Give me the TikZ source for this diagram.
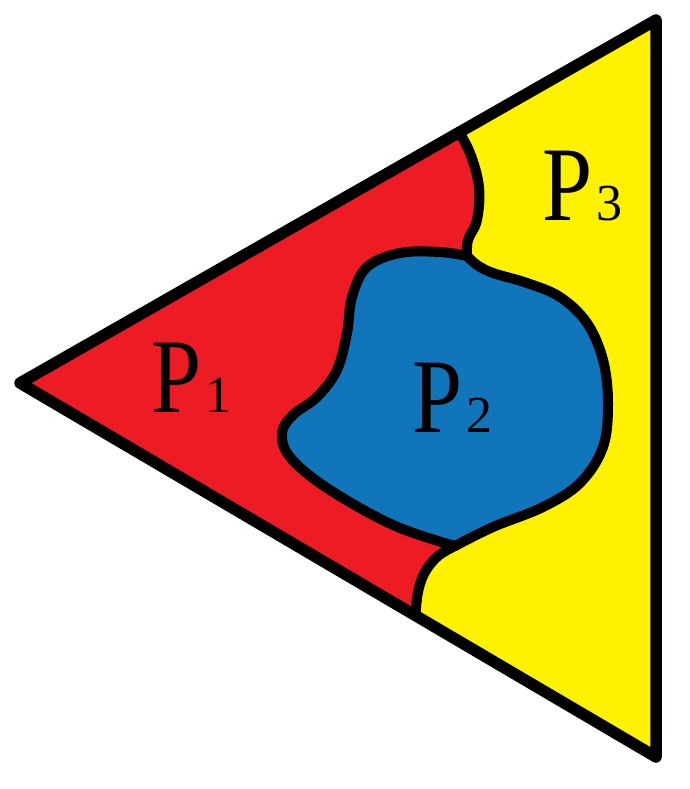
\documentclass[tikz,border=0pt]{standalone}
\usepackage{fontspec}
\setmainfont{Liberation Serif}
\definecolor{pred}{HTML}{ED1C24}
\definecolor{pblue}{HTML}{1175BC}
\definecolor{pyellow}{HTML}{FFF200}
\newcommand{\plab}[1]{\scalebox{0.85}[1]{\fontsize{106}{106}\selectfont P}\hspace{4pt}{\fontsize{52}{52}\selectfont #1}}
\begin{document}
\begin{tikzpicture}[x=1pt,y=-1pt, line join=round, line cap=round,
  edge/.style={line width=11.5pt},
  border/.style={line width=10pt},
  lab/.style={inner sep=0pt, anchor=base west}]
\useasboundingbox (0,0) rectangle (689,789);
\coordinate (L) at (20,383);
\coordinate (TR) at (656,20);
\coordinate (BR) at (656,757);
\coordinate (J1) at (467,256);
\coordinate (J2) at (455,546);
\begin{scope}
\clip (L) -- (TR) -- (BR) -- cycle;
\fill[pyellow] (L) -- (TR) -- (BR) -- cycle;
\fill[pred] (L) -- (450,120)
  -- plot[smooth,tension=0.6] coordinates {(455,125)(470,153)(479,187)(477,220)(468,240)(467,256)}
  -- plot[smooth,tension=0.6] coordinates {(467,256)(440,252)(400,253)(367,267)(352,297)(347,333)(337,370)(317,397)(293,415)(282,433)(290,457)(327,488)(393,525)(455,546)}
  -- plot[smooth,tension=0.6] coordinates {(455,546)(438,556)(425,572)(418,592)(415,620)}
  -- cycle;
\fill[pblue] plot[smooth,tension=0.6] coordinates {(467,256)(440,252)(400,253)(367,267)(352,297)(347,333)(337,370)(317,397)(293,415)(282,433)(290,457)(327,488)(393,525)(455,546)}
  -- plot[smooth,tension=0.6] coordinates {(455,546)(493,527)(543,507)(580,483)(603,447)(608,403)(603,360)(587,323)(560,297)(527,283)(493,273)(477,265)(467,256)}
  -- cycle;
\draw[border] plot[smooth,tension=0.6] coordinates {(455,125)(470,153)(479,187)(477,220)(468,240)(467,256)};
\draw[border] plot[smooth,tension=0.6] coordinates {(467,256)(440,252)(400,253)(367,267)(352,297)(347,333)(337,370)(317,397)(293,415)(282,433)(290,457)(327,488)(393,525)(455,546)};
\draw[border] plot[smooth,tension=0.6] coordinates {(455,546)(493,527)(543,507)(580,483)(603,447)(608,403)(603,360)(587,323)(560,297)(527,283)(493,273)(477,265)(467,256)};
\draw[border] plot[smooth,tension=0.6] coordinates {(455,546)(438,556)(425,572)(418,592)(415,620)};
\end{scope}
\draw[edge] (L) -- (TR) -- (BR) -- cycle;
\node[lab] (p1) at (151,412) {\plab{1}};
\node[lab] (p2) at (412,432) {\plab{2}};
\node[lab] (p3) at (542,220) {\plab{3}};
\end{tikzpicture}
\end{document}
